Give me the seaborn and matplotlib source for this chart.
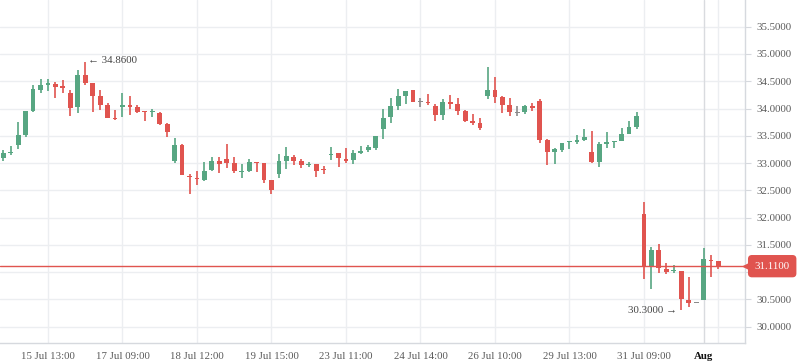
import numpy as np
import matplotlib
matplotlib.use("Agg")
import matplotlib.pyplot as plt
import seaborn as sns

# =========================================
# DADOS (OHLC por candle)
# =========================================

opens = [33.10, 33.18, 33.34, 33.51, 33.96, 34.34, 34.44, 34.45, 34.395, 34.29,
         34.02, 34.61, 34.47, 34.23, 34.07, 33.826, 34.02, 34.065, 34.02, 33.949,
         33.936, 33.92, 33.716, 33.03, 33.33, 32.763, 32.733, 32.69, 32.87, 33.04,
         33.075, 32.995, 32.837, 32.86, 33.014, 32.995, 32.69, 32.80, 33.044, 33.105,
         33.038, 32.965, 32.983, 32.879, 33.148, 33.185, 33.075, 33.063, 33.185, 33.24,
         33.283, 33.63, 33.85, 34.046, 34.236, 34.34, 34.114, 34.12, 34.046, 33.881,
         34.12, 34.083, 33.955, 33.771, 33.735, 34.23, 34.34, 34.217, 34.065, 33.924,
         33.942, 34.046, 34.138, 33.423, 33.209, 33.24, 33.38, 33.392, 33.423, 33.203,
         33.026, 33.356, 33.38, 33.411, 33.539, 33.668, 32.066, 31.113, 31.40, 31.058,
         31.028, 31.022, 30.49, 30.429, 30.49, 31.217, 31.211]

highs = [33.24, 33.31, 33.75, 33.96, 34.43, 34.54, 34.54, 34.49, 34.52, 34.34,
         34.71, 34.86, 34.474, 34.34, 34.11, 33.97, 34.28, 34.23, 34.058, 33.95,
         34.00, 33.942, 33.728, 33.454, 33.35, 32.794, 32.855, 33.014, 33.105, 33.118,
         33.35, 33.105, 32.983, 33.075, 33.014, 33.008, 32.69, 33.167, 33.295, 33.148,
         33.075, 33.02, 32.983, 32.947, 33.295, 33.185, 33.283, 33.24, 33.313, 33.332,
         33.496, 33.991, 34.199, 34.358, 34.321, 34.34, 34.187, 34.266, 34.083, 34.175,
         34.248, 34.187, 33.973, 33.90, 33.82, 34.767, 34.584, 34.236, 34.199, 34.046,
         34.065, 34.107, 34.175, 33.441, 33.283, 33.362, 33.392, 33.515, 33.625, 33.588,
         33.392, 33.57, 33.405, 33.637, 33.771, 33.936, 32.28, 31.455, 31.517, 31.162,
         31.132, 31.022, 30.906, 30.429, 31.437, 31.309, 31.211]

lows = [33.045, 33.14, 33.258, 33.484, 33.942, 34.291, 34.327, 34.199, 34.278, 33.869,
        33.924, 34.431, 33.942, 33.973, 33.832, 33.79, 33.851, 33.887, 33.912, 33.777,
        33.851, 33.704, 33.484, 33.008, 32.775, 32.427, 32.598, 32.678, 32.861, 32.824,
        32.916, 32.824, 32.733, 32.843, 32.843, 32.641, 32.433, 32.733, 32.892, 32.965,
        32.916, 32.922, 32.751, 32.80, 33.056, 32.928, 33.008, 32.989, 33.167, 33.197,
        33.24, 33.441, 33.741, 33.973, 34.083, 34.12, 34.034, 34.065, 33.771, 33.79,
        33.991, 33.881, 33.747, 33.698, 33.606, 34.181, 34.107, 33.924, 33.863, 33.869,
        33.90, 33.961, 33.374, 32.965, 32.983, 33.209, 33.258, 33.35, 33.405, 33.008,
        32.934, 33.283, 33.283, 33.405, 33.533, 33.631, 30.881, 30.686, 30.991, 30.961,
        30.979, 30.30, 30.368, 30.429, 30.49, 30.918, 31.052]

closes = [33.18, 33.20, 33.515, 33.955, 34.358, 34.431, 34.462, 34.401, 34.385, 34.016,
          34.614, 34.474, 34.236, 34.071, 33.832, 33.808, 34.065, 34.034, 33.93, 33.93,
          33.961, 33.722, 33.57, 33.331, 32.781, 32.739, 32.702, 32.855, 33.038, 32.983,
          33.008, 32.861, 32.855, 33.014, 33.002, 32.69, 32.507, 33.038, 33.124, 33.038,
          32.965, 32.983, 32.855, 32.867, 33.167, 33.099, 33.044, 33.185, 33.228, 33.289,
          33.496, 33.82, 34.046, 34.23, 34.321, 34.12, 34.114, 34.108, 33.881, 34.114,
          34.089, 33.955, 33.771, 33.735, 33.643, 34.34, 34.217, 34.065, 33.942, 33.924,
          34.046, 34.009, 33.423, 33.209, 33.258, 33.362, 33.392, 33.423, 33.472, 33.026,
          33.35, 33.386, 33.405, 33.533, 33.661, 33.863, 31.101, 31.40, 31.071, 31.01,
          31.04, 30.502, 30.429, 30.429, 31.242, 31.205, 31.11]

tick_pos = [6, 16, 26, 36, 46, 56, 66, 76, 86, 94, 96]
tick_labels = ["15 Jul 13:00", "17 Jul 09:00", "18 Jul 12:00", "19 Jul 15:00",
               "23 Jul 11:00", "24 Jul 14:00", "26 Jul 10:00", "29 Jul 13:00",
               "31 Jul 09:00", "Aug", ""]

y_ticks = [30.0, 30.5, 31.0, 31.5, 32.0, 32.5, 33.0, 33.5, 34.0, 34.5, 35.0, 35.5]
y_tick_labels = ["30.0000", "30.5000", "", "31.5000", "32.0000", "32.5000",
                 "33.0000", "33.5000", "34.0000", "34.5000", "35.0000", "35.5000"]

last_price = 31.11
max_idx, max_val = 11, 34.86
min_idx, min_val = 91, 30.30

# =========================================
# ESTILO
# =========================================

GREEN = "#57a682"
RED = "#e0544f"
GRAY = "#8a8a8a"
GRID = "#eceef1"
TEXT = "#5a5a5a"

sns.set_theme(style="white")
plt.rcParams["font.family"] = ["Liberation Serif", "DejaVu Sans"]

fig = plt.figure(figsize=(7.98, 3.63), dpi=100)
ax = fig.add_axes([0, 1 - 342.7 / 363, 745 / 798, 342.7 / 363])

o = np.array(opens)
h = np.array(highs)
l = np.array(lows)
c = np.array(closes)
x = np.arange(len(o))

cores = np.where(c > o, GREEN, np.where(c < o, RED, GRAY))

# grade
for yt in y_ticks:
    ax.axhline(yt, color=GRID, lw=1, zorder=0)
for xt in tick_pos:
    ax.axvline(xt, color="#d9dbdf" if xt == 94 else GRID, lw=1, zorder=0)

# pavios
ax.vlines(x, l, h, colors=cores, lw=1.2, zorder=2)

# corpos
base = np.minimum(o, c)
altura = np.maximum(np.abs(c - o), 0.02)
ax.bar(x, altura, bottom=base, width=0.65, color=cores, lw=0, zorder=3)

# linha do ultimo preco
ax.axhline(last_price, color=RED, lw=1, zorder=4)

# anotacoes max / min
ax.annotate("\u2190 34.8600", xy=(max_idx, max_val), xytext=(2, 1),
            textcoords="offset points", ha="left", va="center",
            fontsize=7.8, color="#444444")
ax.annotate("30.3000 \u2192", xy=(min_idx, min_val), xytext=(-3, 0),
            textcoords="offset points", ha="right", va="center",
            fontsize=7.8, color="#444444")

# eixos
ax.set_xlim(-0.44, 99.56)
ax.set_ylim(29.707, 35.99)

ax.yaxis.tick_right()
ax.set_yticks(y_ticks)
ax.set_yticklabels(y_tick_labels)
ax.set_xticks(tick_pos)
ax.set_xticklabels(tick_labels)

ax.tick_params(axis="y", length=4, width=0.8, color="#d6d9de", pad=4,
               labelsize=7.8, labelcolor=TEXT)
ax.tick_params(axis="x", length=4, width=0.8, color="#d6d9de", pad=3,
               labelsize=7.8, labelcolor=TEXT)
for lab in ax.get_xticklabels():
    if lab.get_text() == "Aug":
        lab.set_fontweight("bold")
        lab.set_color("#111111")

for s in ["top", "left"]:
    ax.spines[s].set_visible(False)
for s in ["right", "bottom"]:
    ax.spines[s].set_color("#d6d9de")
    ax.spines[s].set_linewidth(1)

# etiqueta do ultimo preco
ax.text(1.0365, last_price, "31.1100", transform=ax.get_yaxis_transform(),
        ha="center", va="center", fontsize=7.8, color="white", zorder=6,
        bbox=dict(boxstyle="round,pad=0.55,rounding_size=0.3", fc=RED, ec=RED),
        clip_on=False)
ax.plot([1.003], [last_price], marker="<", markersize=6, color=RED,
        transform=ax.get_yaxis_transform(), clip_on=False, zorder=5)

fig.savefig("out.png", dpi=100)
